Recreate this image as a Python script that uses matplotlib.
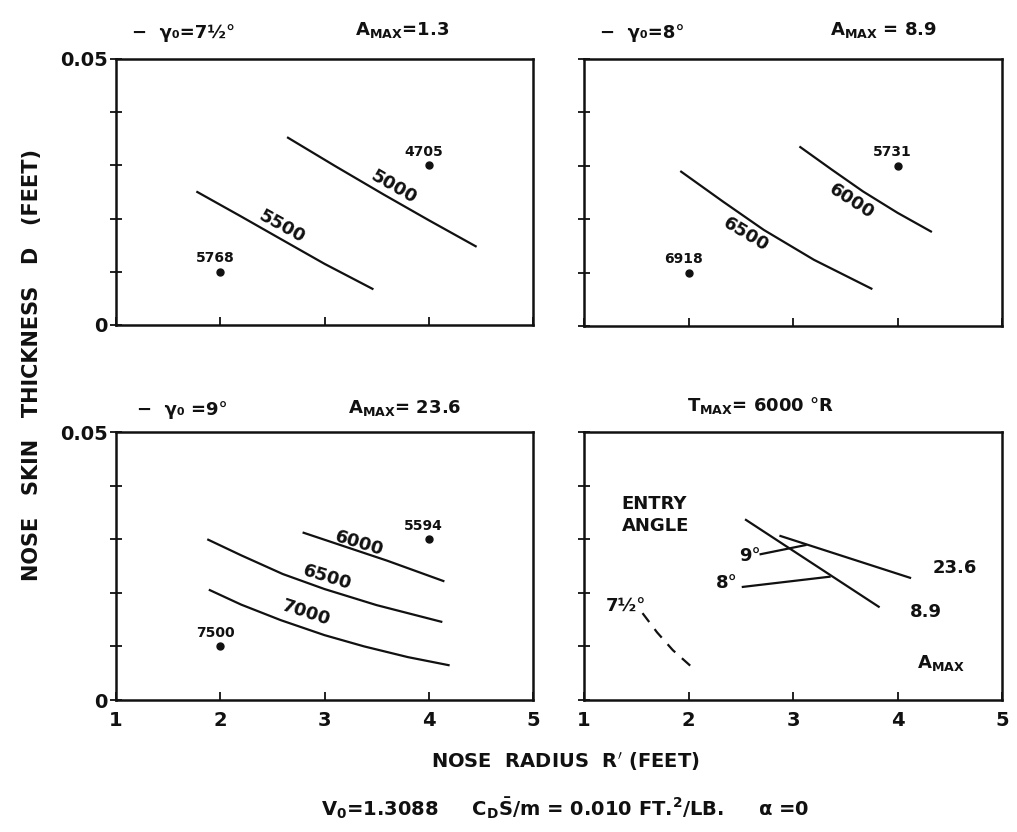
import numpy as np
import matplotlib
matplotlib.use("Agg")
import matplotlib.pyplot as plt

# Nose skin thickness vs nose radius, four panels (scanned report figure)

# --- panel (a): -gamma0 = 7 1/2 deg
a_points_r = [4.0, 2.0]
a_points_d = [0.030, 0.010]
a_points_lbl = ["4705", "5768"]
a_c5000_r = [2.65, 3.1, 3.57, 4.0, 4.45]
a_c5000_d = [0.0352, 0.0299, 0.0245, 0.0197, 0.0148]
a_c5500_r = [1.78, 2.2, 2.55, 3.0, 3.46]
a_c5500_d = [0.0250, 0.0204, 0.0165, 0.0115, 0.0068]

# --- panel (b): -gamma0 = 8 deg
b_points_r = [4.0, 2.0]
b_points_d = [0.030, 0.010]
b_points_lbl = ["5731", "6918"]
b_c6000_r = [3.07, 3.37, 3.67, 4.0, 4.32]
b_c6000_d = [0.0335, 0.0293, 0.0252, 0.0212, 0.0177]
b_c6500_r = [1.93, 2.33, 2.72, 3.2, 3.75]
b_c6500_d = [0.0289, 0.0233, 0.0180, 0.0124, 0.0070]

# --- panel (c): -gamma0 = 9 deg
c_points_r = [4.0, 2.0]
c_points_d = [0.030, 0.010]
c_points_lbl = ["5594", "7500"]
c_c6000_r = [2.8, 3.2, 3.6, 4.14]
c_c6000_d = [0.0312, 0.0286, 0.0260, 0.0222]
c_c6500_r = [1.885, 2.2, 2.6, 3.0, 3.5, 4.12]
c_c6500_d = [0.0299, 0.0270, 0.0235, 0.0207, 0.0177, 0.0146]
c_c7000_r = [1.9, 2.2, 2.58, 3.0, 3.38, 3.8, 4.19]
c_c7000_d = [0.0205, 0.0178, 0.0149, 0.0121, 0.0100, 0.0080, 0.0065]

# --- panel (d): T_max = 6000 R
d_a89_r = [2.55, 3.82]
d_a89_d = [0.0336, 0.0174]
d_a236_r = [2.88, 4.12]
d_a236_d = [0.0306, 0.0228]
d_e9_r = [2.69, 3.12]
d_e9_d = [0.0272, 0.0289]
d_e8_r = [2.52, 3.35]
d_e8_d = [0.0211, 0.0230]
d_e75_r = [1.56, 1.7, 1.85, 2.04]
d_e75_d = [0.0162, 0.0126, 0.0093, 0.0060]

x_ticks = [1, 2, 3, 4, 5]
y_ticks = [0, 0.01, 0.02, 0.03, 0.04, 0.05]

plt.rcParams['font.family'] = ['DejaVu Sans']
plt.rcParams['font.weight'] = 'bold'
plt.rcParams['mathtext.default'] = 'bf'

INK = '#111111'
W, H = 1017, 832
fig = plt.figure(figsize=(W / 100, H / 100), dpi=100)


def px_axes(x0, y0, x1, y1):
    return fig.add_axes([x0 / W, 1 - y1 / H, (x1 - x0) / W, (y1 - y0) / H])


def px_text(x, y, s, **kw):
    fig.text(x / W, 1 - y / H, s, color=INK, fontweight='bold', **kw)


def setup(ax, left_labels, bottom_labels):
    ax.set_xlim(1, 5)
    ax.set_ylim(0, 0.05)
    ax.set_xticks(x_ticks)
    ax.set_yticks(y_ticks)
    for sp in ax.spines.values():
        sp.set_linewidth(1.8)
        sp.set_color(INK)
    ax.tick_params(axis='x', direction='in', length=6, width=1.3, colors=INK,
                   labelsize=14, pad=8)
    ax.tick_params(axis='y', direction='inout', length=8, width=1.3, colors=INK,
                   labelsize=14, pad=2)
    if bottom_labels:
        ax.set_xticklabels([str(v) for v in x_ticks])
    else:
        ax.set_xticklabels([])
    if left_labels:
        ax.set_yticklabels(["0", "", "", "", "", "0.05"])
    else:
        ax.set_yticklabels([])
    for lab in ax.get_xticklabels() + ax.get_yticklabels():
        lab.set_fontweight('bold')


def curve(ax, r, d, **kw):
    ax.plot(r, d, color=INK, lw=1.6, solid_joinstyle='round', **kw)


def points(ax, r, d, labels):
    ax.plot(r, d, 'o', color=INK, ms=5)
    for ri, di, s in zip(r, d, labels):
        ax.text(ri - 0.05, di + 0.0025, s, ha='center', va='center',
                fontsize=10, color=INK, fontweight='bold')


def clabel(ax, r, d, s, rot):
    ax.text(r, d, s, ha='center', va='center', rotation=rot, fontsize=13,
            color=INK, fontweight='bold', rotation_mode='anchor')


# panel a
ax1 = px_axes(116, 59, 533, 325)
setup(ax1, True, False)
curve(ax1, a_c5000_r, a_c5000_d)
curve(ax1, a_c5500_r, a_c5500_d)
points(ax1, a_points_r, a_points_d, a_points_lbl)
clabel(ax1, 3.66, 0.0259, "5000", -30)
clabel(ax1, 2.59, 0.0184, "5500", -29)

# panel b
ax2 = px_axes(584, 59, 1002, 326)
setup(ax2, False, False)
curve(ax2, b_c6000_r, b_c6000_d)
curve(ax2, b_c6500_r, b_c6500_d)
points(ax2, b_points_r, b_points_d, b_points_lbl)
clabel(ax2, 3.56, 0.0233, "6000", -33)
clabel(ax2, 2.55, 0.0171, "6500", -31)

# panel c
ax3 = px_axes(116, 432, 533, 700)
setup(ax3, True, True)
curve(ax3, c_c6000_r, c_c6000_d)
curve(ax3, c_c6500_r, c_c6500_d)
curve(ax3, c_c7000_r, c_c7000_d)
points(ax3, c_points_r, c_points_d, c_points_lbl)
clabel(ax3, 3.33, 0.0291, "6000", -17)
clabel(ax3, 3.03, 0.0228, "6500", -17)
clabel(ax3, 2.82, 0.0162, "7000", -18)

# panel d
ax4 = px_axes(584, 432, 1002, 700)
setup(ax4, False, True)
curve(ax4, d_a89_r, d_a89_d)
curve(ax4, d_a236_r, d_a236_d)
curve(ax4, d_e9_r, d_e9_d)
curve(ax4, d_e8_r, d_e8_d)
curve(ax4, d_e75_r, d_e75_d, linestyle=(0, (5, 4)))
tk = dict(color=INK, fontweight='bold', fontsize=13)
ax4.text(1.36, 0.0345, "ENTRY\nANGLE", ha='left', va='center',
         linespacing=1.3, **tk)
ax4.text(2.59, 0.0268, "9°", ha='center', va='center', **tk)
ax4.text(2.37, 0.0218, "8°", ha='center', va='center', **tk)
ax4.text(1.40, 0.0174, "7½°", ha='center', va='center', **tk)
ax4.text(4.55, 0.0246, "23.6", ha='center', va='center', **tk)
ax4.text(4.27, 0.0164, "8.9", ha='center', va='center', **tk)
ax4.text(4.42, 0.0069, "A$_{MAX}$", ha='center', va='center', **tk)

# panel headings
px_text(132, 33, "−  γ₀=7½°", fontsize=13, ha='left', va='center')
px_text(355, 30, "A$_{MAX}$=1.3", fontsize=13, ha='left', va='center')
px_text(600, 33, "−  γ₀=8°", fontsize=13, ha='left', va='center')
px_text(830, 30, "A$_{MAX}$ = 8.9", fontsize=13, ha='left', va='center')
px_text(137, 410, "−  γ₀ =9°", fontsize=13, ha='left', va='center')
px_text(348, 408, "A$_{MAX}$= 23.6", fontsize=13, ha='left', va='center')
px_text(687, 406, "T$_{MAX}$= 6000 °R", fontsize=13, ha='left', va='center')

# axis labels and footnote
px_text(32, 365, "NOSE   SKIN   THICKNESS   D   (FEET)", fontsize=15,
        rotation=90, ha='center', va='center')
px_text(565, 762, "NOSE  RADIUS  R$^{\\prime}$ (FEET)", fontsize=14,
        ha='center', va='center')
px_text(565, 808, "V$_0$=1.3088     C$_D\\bar{S}$/m = 0.010 FT.$^2$/LB.     α =0",
        fontsize=14, ha='center', va='center')

fig.savefig("out.png", dpi=100, facecolor='white')
